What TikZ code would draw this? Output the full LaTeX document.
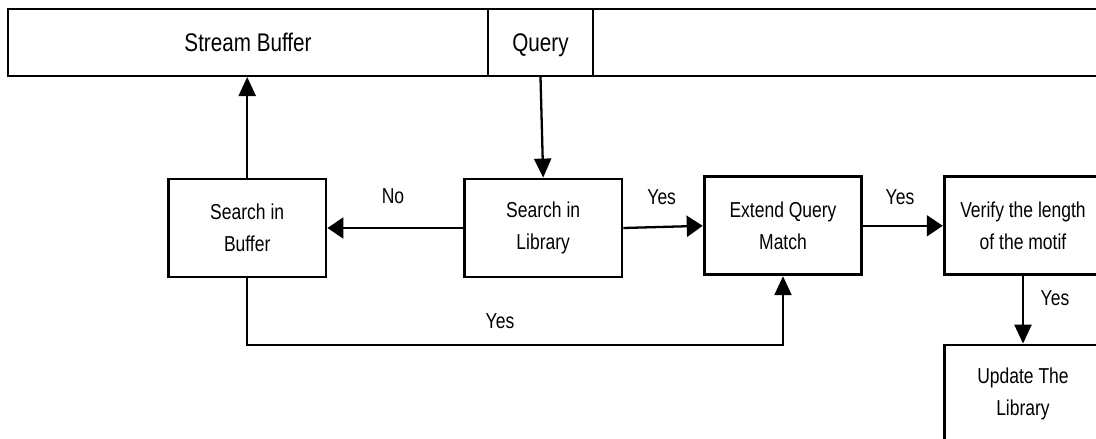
\documentclass[tikz,border=0pt]{standalone}
\usepackage{fontspec}
\newfontfamily\nf[FakeStretch=0.81]{Liberation Sans}
\usetikzlibrary{arrows.meta}
\begin{document}
\begin{tikzpicture}[x=1pt,y=1pt,
  box/.style={draw, line width=2.8pt, minimum width=157.7pt, minimum height=98pt, inner sep=0pt, align=center, font=\nf\fontsize{21.6}{32.5}\selectfont},
  bar/.style={draw, line width=2pt, minimum height=67.5pt, inner sep=0pt, text depth=0pt, font=\nf\fontsize{25.5}{30}\selectfont},
  lbl/.style={inner sep=0pt, font=\nf\fontsize{21.6}{26}\selectfont},
  conn/.style={line width=2.3pt},
  harr/.style={conn, -{Triangle[length=16pt,width=21pt]}},
  varr/.style={conn, -{Triangle[length=19pt,width=17pt]}}]
\useasboundingbox (0,0) rectangle (1096,-439);
\clip (0,0) rectangle (1096,-439);
% top bar
\node[bar, minimum width=480pt] (sb) at (248,-42.25) {Stream Buffer};
\node[bar, minimum width=105pt] (q) at (540.5,-42.25) {Query};
\node[bar, minimum width=527pt] (rest) at (856.5,-42.25) {};
% boxes
\node[box] (buf) at (247.2,-228) {Search in\\Buffer};
\node[box] (lib) at (543.2,-228) {Search in\\Library};
\node[box] (ext) at (783,-225.8) {Extend Query\\Match};
\node[box] (ver) at (1023,-225.8) {Verify the length\\of the motif};
\node[box] (upd) at (1023,-394) {Update The\\Library};
% connectors
\draw[varr] (buf.north) -- (buf.north |- sb.south);
\draw[varr] (q.south) -- (lib.north);
\draw[harr] (lib.west) -- (buf.east);
\draw[harr] (lib.east) -- (ext.west);
\draw[harr] (ext.east) -- (ver.west);
\draw[varr] (ver.south) -- (upd.north);
\coordinate (yb) at (0,-345);
\draw[varr] (buf.south) -- (buf.south |- yb) -| (ext.south);
% labels
\node[lbl] (lno) at (393,-196) {No};
\node[lbl] (ly1) at (661.7,-196.7) {Yes};
\node[lbl] (ly2) at (900,-196.7) {Yes};
\node[lbl] (ly3) at (1055,-298) {Yes};
\node[lbl] (ly4) at (500,-321) {Yes};
\end{tikzpicture}
\end{document}
